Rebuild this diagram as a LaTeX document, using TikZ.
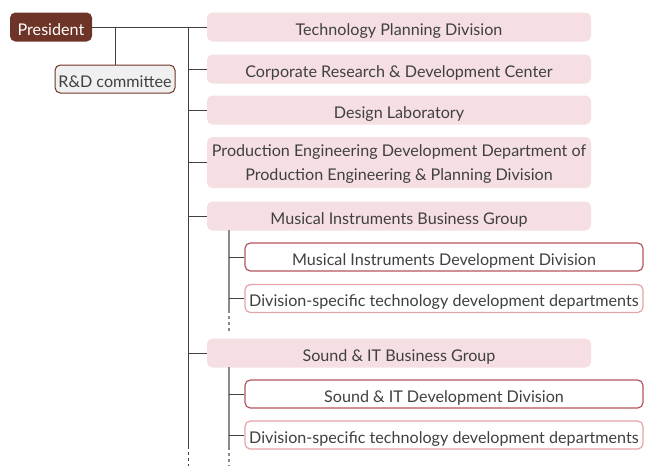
\documentclass[tikz,border=0pt]{standalone}
\usepackage{fontspec}
\setmainfont{Lato}
\usetikzlibrary{positioning}
\definecolor{presbrown}{HTML}{6E3428}
\definecolor{divpink}{HTML}{F5DFE2}
\definecolor{devred}{HTML}{B4555F}
\definecolor{deptpink}{HTML}{E4A4A6}
\definecolor{textgray}{HTML}{404040}
\definecolor{branchgray}{HTML}{8A8A8A}
\tikzset{
  oneline/.style={text height=12pt, text depth=0pt},
  president/.style={fill=presbrown, text=white, rounded corners=4pt, oneline,
    minimum width=61.5pt, minimum height=21.75pt, inner sep=0pt},
  committee/.style={draw=presbrown, fill=black!6, text=textgray, rounded corners=4pt,
    line width=0.75pt, minimum width=90pt, minimum height=21pt, inner sep=0pt, oneline},
  division/.style={fill=divpink, text=textgray, rounded corners=4pt,
    minimum width=288pt, minimum height=21.75pt, inner sep=0pt},
  devdiv/.style={draw=devred, fill=white, text=textgray, rounded corners=4pt,
    line width=0.9pt, minimum width=298.5pt, minimum height=21pt, inner sep=0pt, oneline},
  deptdiv/.style={devdiv, draw=deptpink},
  link/.style={line width=0.75pt, draw=textgray},
  sublink/.style={line width=0.9pt, draw=branchgray},
  more/.style={dash pattern=on 2.25pt off 2.25pt}
}
\begin{document}
\begin{tikzpicture}[x=0.75pt, y=-0.75pt, font=\fontsize{12.1}{18}\selectfont]
    \useasboundingbox (0,0) rectangle (647,469);
    % top of the chart
    \node[president] (pres) at (51,27) {President};
    \node[committee] (rnd) at (115,79) {R\&D committee};
    % divisions
    \node[division, oneline] (tech) at (399,27) {Technology Planning Division};
    \node[division, oneline] (crdc) at (399,69) {Corporate Research \& Development Center};
    \node[division, oneline] (design) at (399,110) {Design Laboratory};
    \node[division, minimum height=38.25pt, align=center, text depth=0pt] (prod) at (399,162.5)
        {Production Engineering Development Department of\\Production Engineering \& Planning Division};
    \node[division, oneline] (mig) at (399,216) {Musical Instruments Business Group};
    \node[devdiv] (midev) at (444,257) {Musical Instruments Development Division};
    \node[deptdiv] (midept) at (444,298.5) {Division-specific technology development departments};
    \node[division, oneline] (sig) at (399,353) {Sound \& IT Business Group};
    \node[devdiv] (sidev) at (444,394) {Sound \& IT Development Division};
    \node[deptdiv] (sidept) at (444,435) {Division-specific technology development departments};
    % trunk
    \coordinate (trunk) at (188,27);
    \coordinate (trunkend) at (188,446);
    \coordinate (trunkmore) at (188,466);
    \draw[link] (pres.east) -- (tech.west);
    \draw[link] (rnd.north) -- (rnd.north |- pres.east);
    \draw[link] (trunk) -- (trunkend);
    \draw[link, more] (trunkend) -- (trunkmore);
    \foreach \d in {crdc, design, prod, mig, sig}
        \draw[link] (trunk |- \d.west) -- (\d.west);
    % business group branches
    \coordinate (mibranch) at (229,230);
    \coordinate (mibranchend) at (229,310);
    \coordinate (mibranchmore) at (229,331);
    \draw[sublink] (mibranch) -- (mibranchend);
    \draw[sublink, more] (mibranchend) -- (mibranchmore);
    \coordinate (sibranch) at (229,367);
    \coordinate (sibranchend) at (229,447);
    \coordinate (sibranchmore) at (229,466);
    \draw[sublink] (sibranch) -- (sibranchend);
    \draw[sublink, more] (sibranchend) -- (sibranchmore);
    \foreach \d in {midev, midept}
        \draw[link] (mibranch |- \d.west) -- (\d.west);
    \foreach \d in {sidev, sidept}
        \draw[link] (sibranch |- \d.west) -- (\d.west);
\end{tikzpicture}
\end{document}
